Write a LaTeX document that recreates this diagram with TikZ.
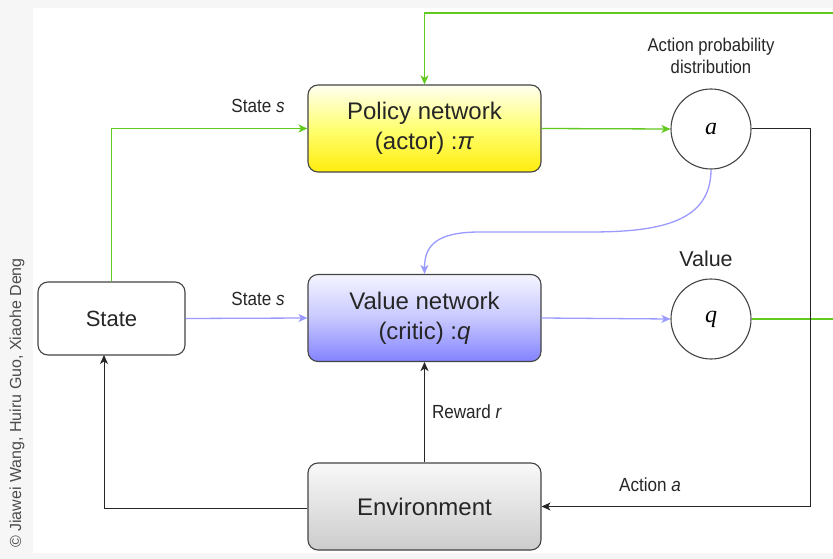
\documentclass[tikz,border=0pt]{standalone}
\usepackage{fontspec}
\setmainfont{Liberation Sans}
\newfontfamily\serifit{Liberation Serif}
\newfontfamily\narrowfont[FakeStretch=0.9]{Liberation Sans}
\usetikzlibrary{arrows.meta,calc}
\definecolor{grn}{HTML}{62C91F}
\definecolor{blu}{HTML}{9A9AFF}
\definecolor{edge}{HTML}{444444}
\tikzset{
  box/.style={draw=edge, line width=1.1pt, rounded corners=10pt, minimum width=233pt, minimum height=87pt, align=center, font=\fontsize{24}{30}\selectfont, text=black!85},
  circ/.style={draw=edge, line width=1.1pt, circle, minimum size=80pt, inner sep=0pt, font=\fontsize{24}{26}\selectfont\serifit\itshape},
  lbl/.style={font=\narrowfont\fontsize{19}{22}\selectfont, text=black!85, align=center},
  tip/.style={-{Stealth[length=9pt,width=8pt,inset=2.5pt]}},
  gline/.style={tip, draw=grn, line width=1.3pt},
  bline/.style={tip, draw=blu, line width=1.3pt},
  kline/.style={tip, draw=black!85, line width=1pt},
}
\begin{document}
\begin{tikzpicture}[x=1pt,y=-1pt]
\useasboundingbox (0,0) rectangle (833,559);
\fill[gray!7] (0,0) rectangle (833,559);
\fill[white] (33,8) rectangle (833,553);
\node[rotate=90, font=\fontsize{16}{18}\selectfont, text=black!70] (copy) at (17,403) {© Jiawei Wang, Huiru Guo, Xiaohe Deng};

\node[box, minimum width=147pt, minimum height=73pt, fill=white, font=\fontsize{22}{26}\selectfont] (state) at (111.5,318.5) {State};
\node[box, top color=yellow!6, bottom color=yellow!85!orange!95, middle color=yellow!55] (policy) at (424.5,128.5) {Policy network\\(actor) :\textit{π}};
\node[box, top color=blue!4, bottom color=blu!85!blue, middle color=blu!55] (value) at (424.5,318) {Value network\\(critic) :\textit{q}};
\node[box, top color=gray!5, bottom color=gray!40] (env) at (424.5,506.5) {Environment};
\node[circ] (a) at (711,129) {a};
\node[circ] (q) at (711,319) {q};

\node[lbl, font=\narrowfont\fontsize{18.5}{22}\selectfont] (apd) at (711,56) {Action probability\\distribution};
\node[lbl, font=\fontsize{21.5}{24}\selectfont] (vl) at (706,259) {Value};
\node[lbl] (s1) at (258,106) {State \textit{s}};
\node[lbl] (s2) at (258,299) {State \textit{s}};
\node[lbl] (rw) at (467,412) {Reward \textit{r}};
\node[lbl] (aa) at (650,485) {Action \textit{a}};

% green
\draw[gline] (state.north) |- (policy.west);
\draw[gline] (policy.east) -- (a.west);
\coordinate (qr) at (836,319);
\coordinate (tr) at (836,13);
\draw[gline] (q.east) -- (qr) -- (tr) -| (policy.north);
% blue
\draw[bline] (state.east) -- (value.west);
\draw[bline] (value.east) -- (q.west);
\draw[bline] (a.south) .. controls (711,222) and (660,232) .. (590,232) -- (480,232) .. controls (437,232) and (424.5,245) .. (value.north);
% black
\coordinate (ar) at (810,129);
\draw[kline] (a.east) -- (ar) |- (env.east);
\draw[kline] (env.north) -- (value.south);
\coordinate (el) at (104,508);
\draw[kline] (env.west |- el) -- (el) -- (104,355);
\end{tikzpicture}
\end{document}
